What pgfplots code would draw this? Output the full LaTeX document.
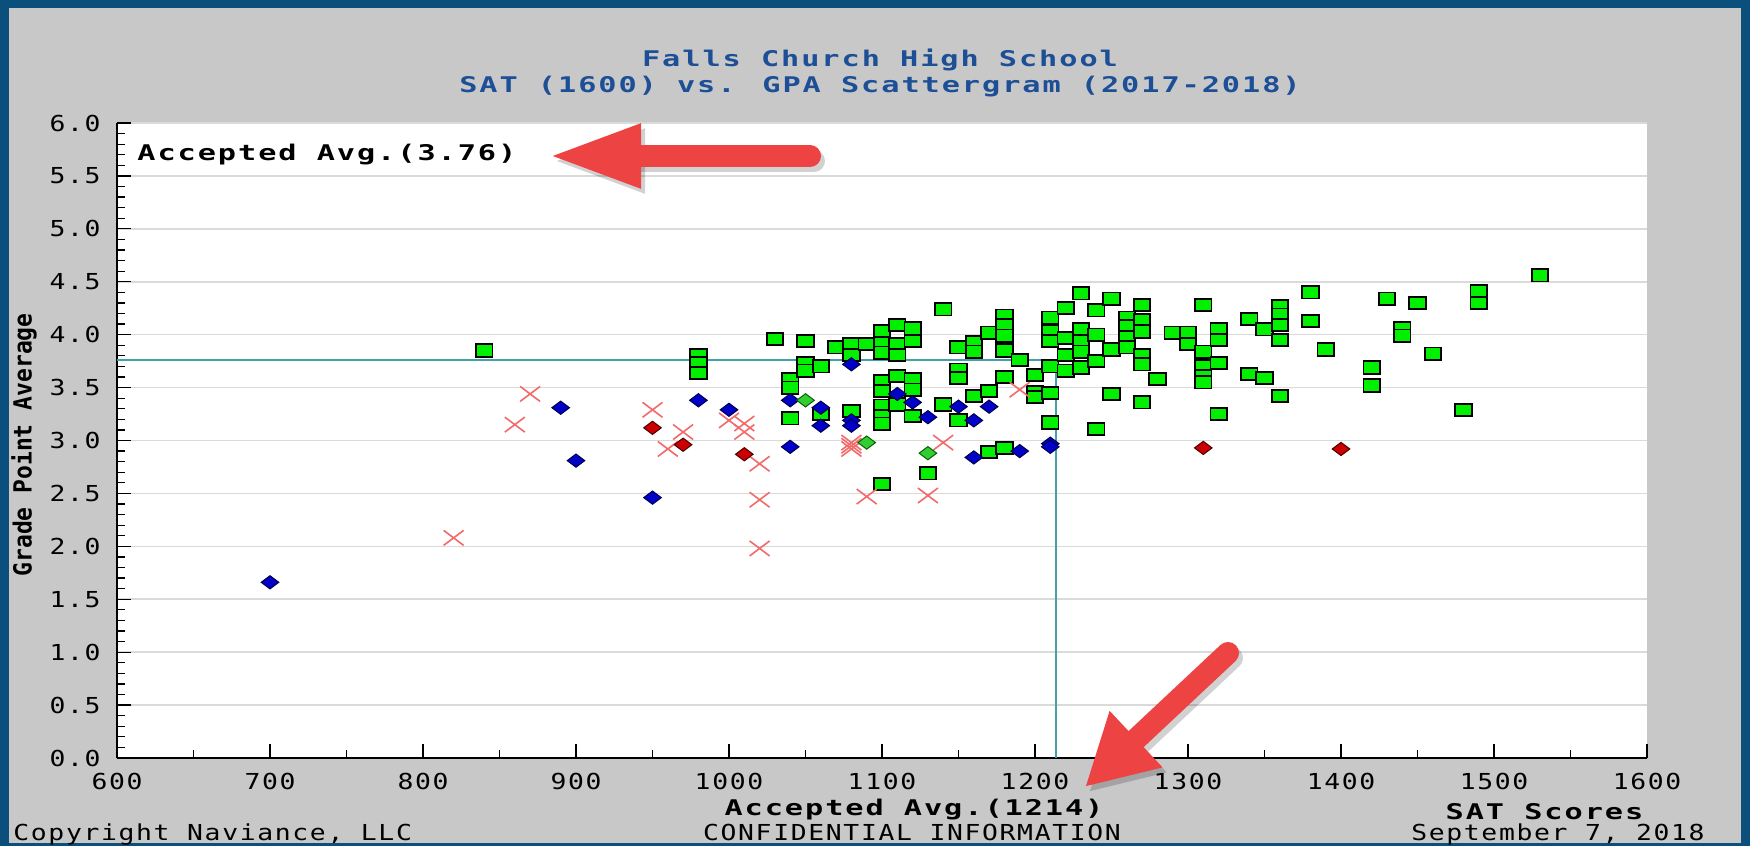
\documentclass[border=0pt]{standalone}
\usepackage{pgfplots}
\pgfplotsset{compat=1.18}
\usepackage{fontspec}
\usetikzlibrary{arrows.meta}
\newfontfamily\regf{DejaVu Sans Mono}[FakeStretch=1.2,LetterSpace=7.5]
\newfontfamily\boldf{DejaVu Sans Mono}[FakeStretch=1.4,LetterSpace=9]
\newfontfamily\ylabf{DejaVu Sans Mono}[FakeStretch=0.92]
\definecolor{frameblue}{HTML}{0B4F7C}
\definecolor{bggray}{HTML}{C8C8C8}
\definecolor{titleblue}{HTML}{1C4F96}
\definecolor{avgteal}{HTML}{3FA3A8}
\definecolor{gridgray}{HTML}{DADADA}
\definecolor{accgreen}{HTML}{00F000}
\definecolor{dblue}{HTML}{0000C8}
\definecolor{dred}{HTML}{CC0000}
\definecolor{lgreen}{HTML}{33CC33}
\definecolor{xred}{HTML}{F26A6A}
\definecolor{arrowred}{HTML}{EE4343}
\pgfdeclareplotmark{sq}{\pgfpathrectangle{\pgfqpoint{-\pgfplotmarksize}{-.75\pgfplotmarksize}}{\pgfqpoint{2\pgfplotmarksize}{1.5\pgfplotmarksize}}\pgfusepathqfillstroke}
\pgfdeclareplotmark{dia}{\pgfpathmoveto{\pgfqpoint{\pgfplotmarksize}{0pt}}\pgfpathlineto{\pgfqpoint{0pt}{.75\pgfplotmarksize}}\pgfpathlineto{\pgfqpoint{-\pgfplotmarksize}{0pt}}\pgfpathlineto{\pgfqpoint{0pt}{-.75\pgfplotmarksize}}\pgfpathclose\pgfusepathqfillstroke}
\pgfdeclareplotmark{xx}{\pgfpathmoveto{\pgfqpoint{-\pgfplotmarksize}{-.75\pgfplotmarksize}}\pgfpathlineto{\pgfqpoint{\pgfplotmarksize}{.75\pgfplotmarksize}}\pgfpathmoveto{\pgfqpoint{-\pgfplotmarksize}{.75\pgfplotmarksize}}\pgfpathlineto{\pgfqpoint{\pgfplotmarksize}{-.75\pgfplotmarksize}}\pgfusepathqstroke}
\newcommand{\regsize}{\regf\fontsize{11}{13}\selectfont}
\newcommand{\boldsize}{\boldf\bfseries\fontsize{10.8}{13}\selectfont}
\begin{document}
\begin{tikzpicture}[x=0.5pt,y=0.5pt]
\path[use as bounding box] (0,0) rectangle (1750,846);
\fill[frameblue] (0,0) rectangle (1750,846);
\fill[bggray] (9,3) rectangle (1741,838);
\begin{axis}[
  at={(58.5pt,44pt)}, anchor=south west,
  width=765pt, height=317.5pt, scale only axis,
  xmin=600, xmax=1600, ymin=0, ymax=6,
  axis lines=left, axis line style={-, black, line width=0.8pt},
  axis background/.style={fill=white},
  xtick={600,700,800,900,1000,1100,1200,1300,1400,1500,1600},
  xticklabels={600,700,800,900,1000,1100,1200,1300,1400,1500,1600},
  ytick={0,0.5,1,1.5,2,2.5,3,3.5,4,4.5,5,5.5,6},
  yticklabels={0.0,0.5,1.0,1.5,2.0,2.5,3.0,3.5,4.0,4.5,5.0,5.5,6.0},
  minor x tick num=1, minor y tick num=4,
  tick align=inside, major tick length=7pt, minor tick length=4pt,
  tick style={black, line width=0.6pt},
  ymajorgrids, major grid style={gridgray, line width=0.8pt},
  xticklabel style={font=\regsize, anchor=north, inner sep=0pt, yshift=-7.5pt},
  yticklabel style={font=\regsize, anchor=east, inner sep=0pt, xshift=-8pt},
  xlabel={SAT Scores},
  xlabel style={font=\boldsize, at={(axis description cs:0.933,-0.0976)}, anchor=base, inner sep=0pt},
  ylabel={Grade Point Average},
  ylabel style={font=\ylabf\bfseries\fontsize{12.5}{14}\selectfont, at={(axis description cs:-0.0608,0.493)}, anchor=center, inner sep=0pt},
]
\addplot[avgteal, line width=1pt] coordinates {(600,3.76) (1214,3.76)};
\addplot[avgteal, line width=1pt] coordinates {(1214,0) (1214,3.76)};
% accepted (green squares)
\addplot[only marks, mark=sq, mark size=4.1pt, mark options={fill=accgreen, draw=black, line width=0.9pt}] coordinates {
(840,3.85)
(980,3.81)(980,3.73)(980,3.64)
(1030,3.96)
(1040,3.58)(1040,3.50)(1040,3.21)
(1050,3.94)(1050,3.73)(1050,3.66)
(1060,3.70)(1060,3.25)
(1070,3.88)
(1080,3.91)(1080,3.81)(1080,3.28)
(1090,3.91)
(1100,4.03)(1100,3.92)(1100,3.83)(1100,3.56)(1100,3.47)(1100,3.33)(1100,3.23)(1100,3.16)(1100,2.59)
(1110,4.09)(1110,3.91)(1110,3.81)(1110,3.61)(1110,3.34)
(1120,4.06)(1120,3.94)(1120,3.58)(1120,3.48)(1120,3.23)
(1130,2.69)
(1140,4.24)(1140,3.34)
(1150,3.88)(1150,3.67)(1150,3.59)(1150,3.19)
(1160,3.93)(1160,3.84)(1160,3.42)
(1170,4.02)(1170,3.47)(1170,2.89)
(1180,4.18)(1180,4.09)(1180,3.99)(1180,3.85)(1180,3.60)(1180,2.93)
(1190,3.76)
(1200,3.62)(1200,3.46)(1200,3.41)
(1210,4.16)(1210,4.03)(1210,3.94)(1210,3.70)(1210,3.45)(1210,3.17)
(1220,4.25)(1220,3.97)(1220,3.81)(1220,3.66)
(1230,4.39)(1230,4.05)(1230,3.94)(1230,3.84)(1230,3.69)
(1240,4.23)(1240,4.00)(1240,3.75)(1240,3.11)
(1250,4.34)(1250,3.86)(1250,3.44)
(1260,4.16)(1260,4.08)(1260,3.98)(1260,3.88)
(1270,4.28)(1270,4.14)(1270,4.03)(1270,3.81)(1270,3.72)(1270,3.36)
(1280,3.58)
(1290,4.02)
(1300,4.02)(1300,3.91)
(1310,4.28)(1310,3.84)(1310,3.70)(1310,3.61)(1310,3.55)
(1320,4.05)(1320,3.95)(1320,3.73)(1320,3.25)
(1340,4.15)(1340,3.63)
(1350,4.05)(1350,3.59)
(1360,4.27)(1360,4.19)(1360,4.09)(1360,3.95)(1360,3.42)
(1380,4.40)(1380,4.13)
(1390,3.86)
(1420,3.69)(1420,3.52)
(1430,4.34)
(1440,4.06)(1440,3.99)
(1450,4.30)
(1460,3.82)
(1480,3.29)
(1490,4.41)(1490,4.30)
(1530,4.56)
};
% denied (light red crosses)
\addplot[only marks, mark=xx, mark size=5pt, mark options={draw=xred, line width=0.8pt}] coordinates {
(820,2.08)(860,3.15)(870,3.44)(950,3.29)(960,2.92)(970,3.08)
(1000,3.19)(1010,3.16)(1010,3.08)(1020,2.78)(1020,2.44)(1020,1.98)
(1080,2.98)(1080,2.95)(1080,2.92)(1090,2.47)(1130,2.48)(1140,2.98)(1190,3.48)
};
% blue diamonds
\addplot[only marks, mark=dia, mark size=4.4pt, mark options={fill=dblue, draw=black!70!blue, line width=0.5pt}] coordinates {
(700,1.66)(890,3.31)(900,2.81)(950,2.46)(980,3.38)(1000,3.29)
(1040,3.38)(1040,2.94)(1060,3.31)(1060,3.14)
(1080,3.72)(1080,3.19)(1080,3.14)(1110,3.44)(1120,3.36)(1130,3.22)
(1150,3.32)(1160,3.19)(1160,2.84)(1170,3.32)(1190,2.90)(1210,2.97)(1210,2.94)
};
% red diamonds
\addplot[only marks, mark=dia, mark size=4.4pt, mark options={fill=dred, draw=black!70!red, line width=0.5pt}] coordinates {
(950,3.12)(970,2.96)(1010,2.87)(1310,2.93)(1400,2.92)
};
% green diamonds
\addplot[only marks, mark=dia, mark size=4.4pt, mark options={fill=lgreen, draw=black!60!green, line width=0.5pt}] coordinates {
(1050,3.38)(1090,2.98)(1130,2.88)
};
\end{axis}
% titles
\node[font=\boldsize, text=titleblue, anchor=base, inner sep=0pt] at (880,779) {Falls Church High School};
\node[font=\boldsize, text=titleblue, anchor=base, inner sep=0pt] at (880,753) {SAT (1600) vs. GPA Scattergram (2017-2018)};
\node[font=\boldsize, anchor=base west, inner sep=0pt] at (137,685) {Accepted Avg.(3.76)};
\node[font=\boldsize, anchor=base, inner sep=0pt] at (914,31) {Accepted Avg.(1214)};
\node[font=\regsize, anchor=base west, inner sep=0pt] at (13,6) {Copyright Naviance, LLC};
\node[font=\regsize, anchor=base, inner sep=0pt] at (912,6) {CONFIDENTIAL INFORMATION};
\node[font=\regsize, anchor=base east, inner sep=0pt] at (1705,6) {September 7, 2018};
% annotation arrows
\draw[black, opacity=0.18, line width=11pt, line cap=round, -{Triangle[length=47pt,width=29pt]}] (814,685) -- (551,685);
\draw[arrowred, line width=11pt, line cap=round, -{Triangle[length=47pt,width=29pt]}] (810,690) -- (547,690);
\draw[black, opacity=0.18, line width=11pt, line cap=round, -{Triangle[length=35pt,width=36pt]}] (1232,188) -- (1089,54);
\draw[arrowred, line width=11pt, line cap=round, -{Triangle[length=35pt,width=36pt]}] (1228,193) -- (1085,59);
\end{tikzpicture}
\end{document}
